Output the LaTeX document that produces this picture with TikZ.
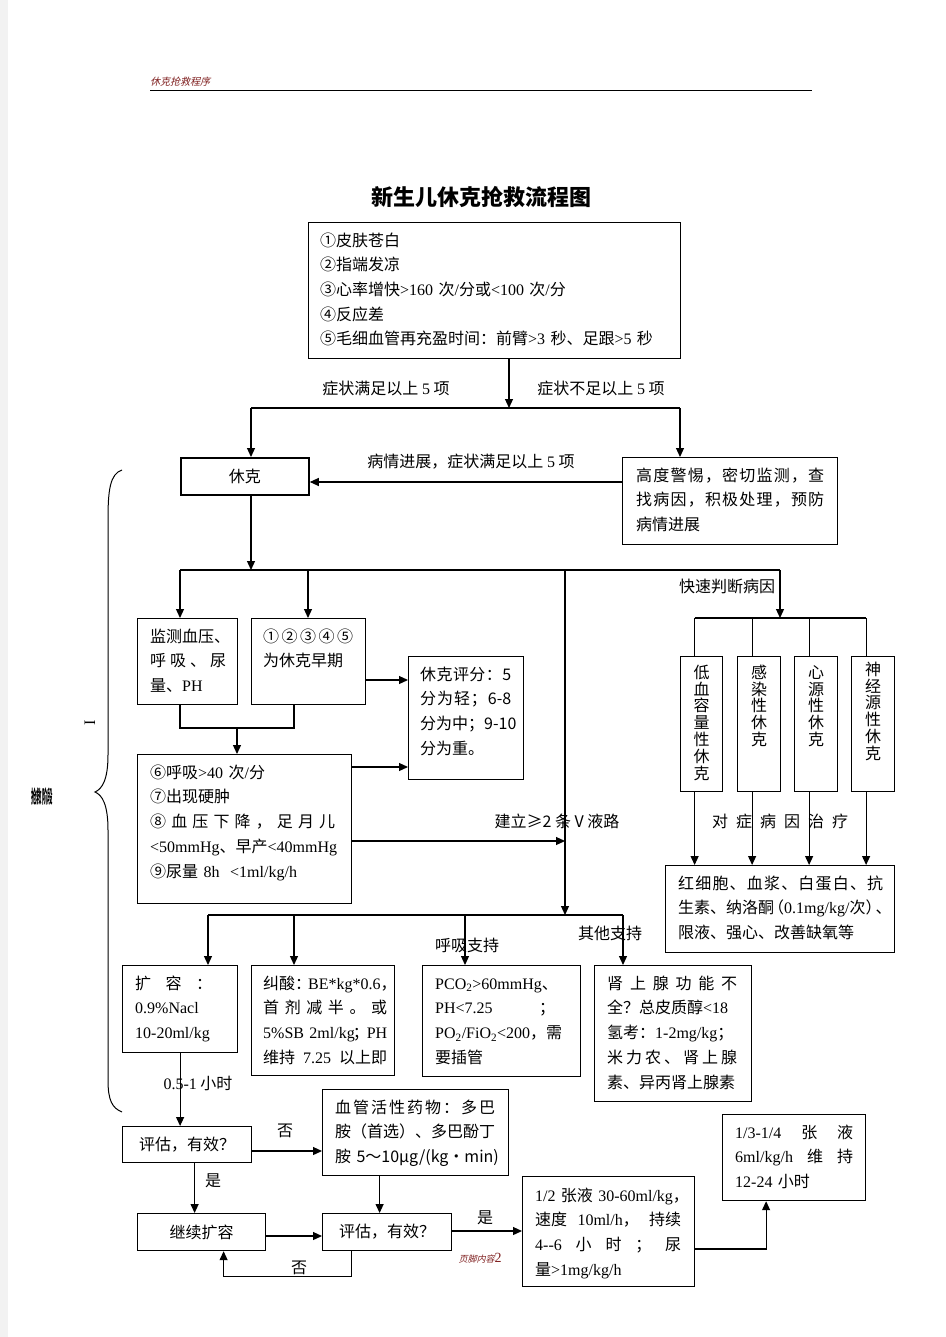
\documentclass[tikz,border=0pt]{standalone}
\usepackage{fontspec}
\setmainfont{Noto Sans CJK SC}
\newfontfamily\tm{Liberation Serif}
\newfontfamily\slant{Noto Sans CJK SC}[FakeSlant=0.25]
\usetikzlibrary{arrows.meta}
\definecolor{hdrred}{RGB}{128,32,32}
\newcommand\body{\fontsize{16}{24.7}\selectfont\exhyphenpenalty=10000 \hyphenpenalty=10000 }
\newcommand\gap{\nobreak\hfill}
% spread the items of one line over the full text width
\def\spreadStop{}
\def\spreadDone{}
\def\spread#1{\spreadA#1\spreadStop}
\def\spreadA#1{\ifx\spreadStop#1\expandafter\spreadDone\else{#1}\expandafter\spreadB\fi}
\def\spreadB#1{\ifx\spreadStop#1\expandafter\spreadDone\else\gap{#1}\expandafter\spreadB\fi}

\begin{document}
\begin{tikzpicture}[x=1pt,y=-1pt,
  box/.style={draw, line width=1.2pt, inner sep=0pt, anchor=north west},
  txt/.style={anchor=north west, inner sep=0pt, align=left, font=\body,
    execute at begin node={\rule{0pt}{14pt}}},
  vtxt/.style={anchor=north, inner sep=0pt, align=center, text width=16pt,
    font=\fontsize{16}{16.8}\selectfont, execute at begin node={\rule{0pt}{14pt}}},
  lbl/.style={inner sep=0pt, font=\body},
  ln/.style={line width=1.2pt},
  arr/.style={line width=1.2pt, -{Triangle[length=9pt,width=8pt]}}]

\useasboundingbox (0,0) rectangle (945,1337);
\fill[white] (0,0) rectangle (945,1337);
\fill[black!5] (0,0) rectangle (8,1337);

% header and title
\node[anchor=west, inner sep=0pt, text=hdrred, font=\slant\fontsize{10}{10}\selectfont] (hdr) at (150,82) {休克抢救程序};
\draw[line width=0.9pt] (150,90) -- (812,90);
\node[inner sep=0pt, font=\bfseries\fontsize{22}{22}\selectfont] (title) at (481,197) {新生儿休克抢救流程图};

% boxes
\node[box, minimum width=372pt, minimum height=136pt] (symp) at (308,222) {};
\node[txt, text width=355pt] at ([shift={(12,10)}]symp.north west) {①皮肤苍白\\
②指端发凉\\
③心率增快{\tm >160}~次{\tm /}分或{\tm <100}~次{\tm /}分\\
④反应差\\
⑤毛细血管再充盈时间：前臂{\tm >3}~秒、足跟{\tm >5}~秒};

\node[box, line width=1.8pt, minimum width=128pt, minimum height=37pt, font=\body] (shock) at (180,457) {休克};

\node[box, minimum width=215pt, minimum height=87pt] (alert) at (622,457) {};
\node[txt, text width=188pt] at ([shift={(14,10)}]alert.north west) {\spread{高度警惕，密切监测，查}\\
\spread{找病因，积极处理，预防}\\
病情进展};

\node[box, minimum width=100pt, minimum height=86pt] (monitor) at (137,618) {};
\node[txt, text width=76pt] at ([shift={(13,10)}]monitor.north west) {监测血压、\\
\spread{呼吸、尿}\\
量、{\tm PH}};

\node[box, minimum width=114pt, minimum height=86pt] (early) at (251,618) {};
\node[txt, text width=90pt] at ([shift={(12,10)}]early.north west) {\spread{①②③④⑤}\\
为休克早期};

\node[box, minimum width=115pt, minimum height=123pt] (score) at (408,656) {};
\node[txt, text width=91pt] at ([shift={(12,10)}]score.north west) {\spread{休克评分：5}\\
\spread{分为轻；{6-8}}\\
\spread{分为中；{9-10}}\\
分为重。};

\node[box, minimum width=214pt, minimum height=149pt] (six) at (137,754) {};
\node[txt, text width=185pt] at ([shift={(13,10)}]six.north west) {⑥呼吸{\tm >40}~次{\tm /}分\\
⑦出现硬肿\\
\spread{⑧血压下降，足月儿}\\
{\tm <50mmHg}、早产{\tm <40mmHg}\\
⑨尿量~{\tm 8h~~<1ml/kg/h}};

\node[box, minimum width=42pt, minimum height=135pt] (low) at (680,656) {};
\node[box, minimum width=43pt, minimum height=135pt] (infect) at (737,656) {};
\node[box, minimum width=43pt, minimum height=135pt] (cardio) at (794,656) {};
\node[box, minimum width=43pt, minimum height=135pt] (neuro) at (851,656) {};
\node[vtxt] at ([yshift=-8pt]low.north) {低\\血\\容\\量\\性\\休\\克};
\node[vtxt] at ([yshift=-8pt]infect.north) {感\\染\\性\\休\\克};
\node[vtxt] at ([yshift=-8pt]cardio.north) {心\\源\\性\\休\\克};
\node[vtxt] at ([yshift=-5pt]neuro.north) {神\\经\\源\\性\\休\\克};

\node[box, minimum width=229pt, minimum height=87pt] (treat) at (665,865) {};
\node[txt, text width=205pt] at ([shift={(13,10)}]treat.north west) {\spread{红细胞、血浆、白蛋白、抗}\\
生素、纳洛酮\kern-6pt（{\tm 0.1mg/kg/}次）\kern-6pt、\\
限液、强心、改善缺氧等};

\node[box, minimum width=115pt, minimum height=87pt] (expand) at (122,965) {};
\node[txt, text width=77pt] at ([shift={(13,10)}]expand.north west) {\spread{扩容：}\\
{\tm 0.9\%Nacl}\\
{\tm 10-20ml/kg}};

\node[box, minimum width=143pt, minimum height=110pt] (acid) at (251,965) {};
\node[txt, text width=124pt] at ([shift={(12,10)}]acid.north west) {纠酸：\kern-3pt{\tm BE*kg*0.6}，\\
\spread{首剂减半。或}\\
{\tm 5\%SB~2ml/kg}\kern-2pt；\kern-2pt{\tm PH}\\
维持\gap{\tm 7.25}\gap 以上即};

\node[box, minimum width=158pt, minimum height=111pt] (resp) at (422,965) {};
\node[txt, text width=120pt] at ([shift={(13,10)}]resp.north west) {{\tm PCO\textsubscript{2}>60mmHg}\gap 、\\
{\tm PH<7.25}\gap ；\\
{\tm PO\textsubscript{2}/FiO\textsubscript{2}<200}，\gap 需\\
要插管};

\node[box, minimum width=157pt, minimum height=136pt] (adrenal) at (594,965) {};
\node[txt, text width=130pt] at ([shift={(13,10)}]adrenal.north west) {\spread{肾上腺功能不}\\
全？总皮质醇{\tm <18}\\
氢考：{\tm 1-2mg/kg}；\\
\spread{米力农、肾上腺}\\
素、异丙肾上腺素};

\node[box, minimum width=129pt, minimum height=36pt, font=\body] (evalA) at (122,1126) {评估，有效？};

\node[box, minimum width=186pt, minimum height=86pt] (vaso) at (322,1089) {};
\node[txt, text width=160pt] at ([shift={(13,10)}]vaso.north west) {\spread{血管活性药物：多巴}\\
胺（首选）、多巴酚丁\\
胺~5～10μg/(kg·min)};

\node[box, minimum width=128pt, minimum height=37pt, font=\body] (cont) at (137,1213) {继续扩容};
\node[box, minimum width=129pt, minimum height=37pt, font=\body] (evalB) at (322,1213) {评估，有效？};

\node[box, minimum width=172pt, minimum height=110pt] (half) at (522,1176) {};
\node[txt, text width=146pt] at ([shift={(13,11)}]half.north west) {{\tm 1/2}~张液~{\tm 30-60ml/kg}，\\
速度\gap{\tm 10ml/h}，\gap 持续\\
\spread{{\tm 4-{}-6}小时；尿}\\
量{\tm >1mg/kg/h}};

\node[box, minimum width=143pt, minimum height=86pt] (maint) at (722,1114) {};
\node[txt, text width=118pt] at ([shift={(13,10)}]maint.north west) {\spread{{\tm 1/3-1/4}张液}\\
\spread{{\tm 6ml/kg/h}维持}\\
{\tm 12-24}~小时};

% connectors
\coordinate (sL) at (251,408);
\coordinate (sM) at (509,408);
\coordinate (sR) at (680,408);
\draw[arr] (sM |- symp.south) -- (sM);
\draw[ln] (sL) -- (sR);
\draw[arr] (sL) -- (sL |- shock.north);
\draw[arr] (sR) -- (sR |- alert.north);
\draw[arr] ([yshift=-25pt]alert.north west) -- ([yshift=-25pt]alert.north west -| shock.east);

\coordinate (bL) at (180,570);
\coordinate (bM) at (308,570);
\coordinate (bC) at (565,570);
\coordinate (bR) at (780,570);
\draw[arr] (sL |- shock.south) -- (sL |- bL);
\draw[ln] (bL) -- (bR);
\draw[arr] (bL) -- (bL |- monitor.north);
\draw[arr] (bM) -- (bM |- early.north);

\coordinate (mL) at (180,728);
\coordinate (mJ) at (237,728);
\coordinate (mR) at (294,728);
\draw[ln] (mL |- monitor.south) -- (mL) -- (mR) -- (mR |- early.south);
\draw[arr] (mJ) -- (mJ |- six.north);
\draw[arr] ([yshift=-62pt]early.north east) -- ([yshift=-62pt]early.north east -| score.west);
\draw[arr] ([yshift=-13pt]six.north east) -- ([yshift=-13pt]six.north east -| score.west);

\coordinate (vC) at (565,841);
\coordinate (dC) at (565,915);
\draw[arr] (vC -| six.east) -- (vC);
\draw[arr] (bC) -- (dC);

\coordinate (dL) at (208,915);
\coordinate (dA) at (294,915);
\coordinate (dB) at (465,915);
\coordinate (dR) at (623,915);
\draw[ln] (dL) -- (dR);
\foreach \c/\b in {dL/expand, dA/acid, dB/resp, dR/adrenal}
  \draw[arr] (\c) -- (\c |- \b.north);

\coordinate (kT) at (780,618);
\draw[arr] (bR) -- (kT);
\draw[ln] ([xshift=-7pt]low.north |- kT) -- ([xshift=-7pt]neuro.north |- kT);
\foreach \b in {low, infect, cardio, neuro} {
  \draw[ln] ([xshift=-7pt]\b.north |- kT) -- ([xshift=-7pt]\b.north);
  \draw[arr] ([xshift=-7pt]\b.south) -- ([xshift=-7pt]\b.south |- treat.north);
}

\draw[arr] (expand.south) -- (expand.south |- evalA.north);
\draw[arr] ([yshift=-25pt]evalA.north east) -- ([yshift=-25pt]evalA.north east -| vaso.west);
\draw[arr] ([xshift=7.5pt]evalA.south) -- ([xshift=7.5pt]evalA.south |- cont.north);
\draw[arr] ([xshift=-36pt]vaso.south) -- ([xshift=-36pt]vaso.south |- evalB.north);
\draw[arr] ([yshift=-23pt]cont.north east) -- ([yshift=-23pt]cont.north east -| evalB.west);
\draw[arr] ([xshift=-35.5pt]evalB.south) -- ++(0,25) -| ([xshift=22pt]cont.south);
\draw[arr] ([yshift=-18pt]evalB.north east) -- ([yshift=-18pt]evalB.north east -| half.west);
\draw[arr] ([yshift=-73pt]half.north east) -| ([xshift=-28pt]maint.south);

% labels
\node[lbl] at (386,388) {症状满足以上 {\tm 5} 项};
\node[lbl] at (601,388) {症状不足以上 {\tm 5} 项};
\node[lbl] at (471,462) {病情进展，症状满足以上 {\tm 5} 项};
\node[lbl] at (727,586) {快速判断病因};
\node[lbl] at (557,821) {建立≥2 条 V 液路};
\node[lbl] at (780,821) {对\hspace{8pt}症\hspace{8pt}病\hspace{8pt}因\hspace{8pt}治\hspace{8pt}疗};
\node[lbl] at (467,945) {呼吸支持};
\node[lbl] at (610,933) {其他支持};
\node[lbl] at (198,1083) {{\tm 0.5-1} 小时};
\node[lbl] at (285,1131) {否};
\node[lbl] at (213,1181) {是};
\node[lbl] at (299,1268) {否};
\node[lbl] at (485,1218) {是};

% brace on the left
\draw[line width=1pt] (122,470) .. controls (110,474) and (108,490) .. (108,520) -- (108,755)
  .. controls (108,780) and (102,789) .. (95,792) .. controls (102,795) and (108,804) .. (108,830)
  -- (108,1080) .. controls (108,1100) and (112,1108) .. (122,1112);
\node[inner sep=0pt, rotate=90, font=\tm\fontsize{16}{16}\selectfont] at (90,723) {I};
\node[inner sep=0pt, font=\bfseries\fontsize{18}{18}\selectfont] at (42,797) {\scalebox{0.3}[1]{抢救阶段}};

% footer
\node[inner sep=0pt, text=hdrred] at (480,1258) {{\slant\fontsize{9}{9}\selectfont 页脚内容}{\tm\fontsize{14}{14}\selectfont 2}};

\end{tikzpicture}
\end{document}
